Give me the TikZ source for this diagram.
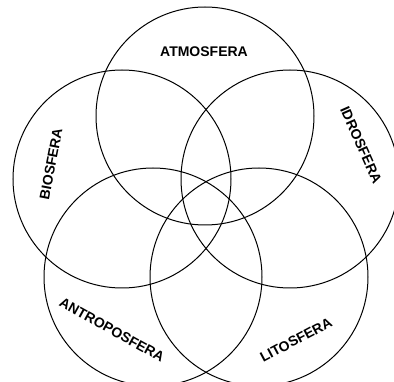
\documentclass[tikz,border=0pt]{standalone}
\usepackage{fontspec}
\setmainfont{Liberation Sans}
\begin{document}
\begin{tikzpicture}[x=1pt,y=1pt,
  sphere/.style={draw=black,line width=1pt,circle,minimum size=218pt,inner sep=0pt},
  lbl/.style={font=\fontsize{14}{14}\selectfont\bfseries,inner sep=0pt}]
\useasboundingbox (0,0) rectangle (394,-382);
\fill[white] (0,0) rectangle (394,-382);
\node[sphere] (atm) at (205,-116) {};
\node[sphere] (bio) at (122,-179) {};
\node[sphere] (idr) at (290,-179) {};
\node[sphere] (ant) at (153,-277) {};
\node[sphere] (lit) at (259,-277) {};
\node[lbl] (tatm) at (204,-52) {ATMOSFERA};
\node[lbl,rotate=79] (tbio) at (51,-164) {BIOSFERA};
\node[lbl,rotate=-66] (tidr) at (361,-145) {IDROSFERA};
\node[lbl,rotate=-29] (tant) at (112,-330) {ANTROPOSFERA};
\node[lbl,rotate=28] (tlit) at (296,-340) {LITOSFERA};
\end{tikzpicture}
\end{document}
